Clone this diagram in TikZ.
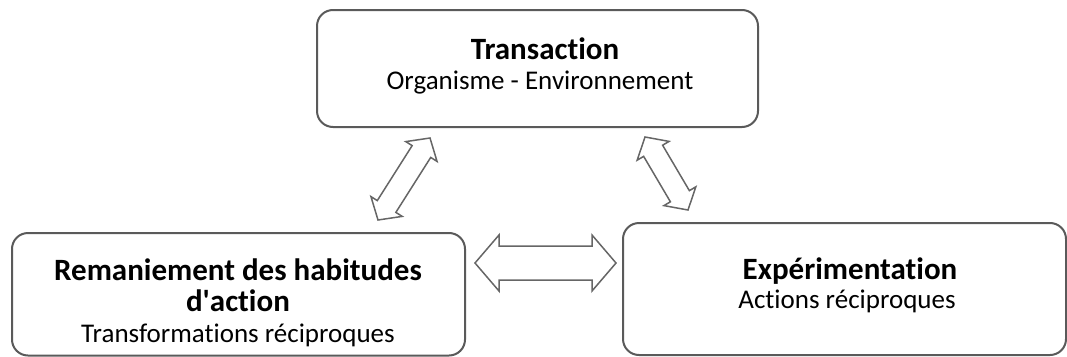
\documentclass[tikz,border=0pt]{standalone}
\usepackage{fontspec}
\setmainfont{Carlito}[Ligatures={NoCommon,NoContextual}]
\usetikzlibrary{calc}
\definecolor{boxline}{HTML}{5A5A5A}
\definecolor{arrline}{HTML}{666666}
\newcommand\blockdarrow[5]{%
  \draw[blockarrow] (#1)
    -- ($(#1)!#3!(#2)!#5!90:(#2)$)
    -- ($(#1)!#3!(#2)!#4!90:(#2)$)
    -- ($(#2)!#3!(#1)!#4!-90:(#1)$)
    -- ($(#2)!#3!(#1)!#5!-90:(#1)$)
    -- (#2)
    -- ($(#2)!#3!(#1)!#5!90:(#1)$)
    -- ($(#2)!#3!(#1)!#4!90:(#1)$)
    -- ($(#1)!#3!(#2)!#4!-90:(#2)$)
    -- ($(#1)!#3!(#2)!#5!-90:(#2)$)
    -- cycle;}
\begin{document}
\begin{tikzpicture}[x=1pt,y=-1pt,
  box/.style={draw=boxline, line width=2pt, rounded corners=16pt},
  blockarrow/.style={draw=arrline, line width=1.5pt, fill=white, line join=miter},
  ttl/.style={anchor=base, font=\fontsize{31}{37}\selectfont\bfseries, inner sep=0pt},
  sub/.style={anchor=base, font=\fontsize{27}{32}\selectfont, inner sep=0pt}]
\useasboundingbox (0,0) rectangle (1067,356);
% boxes
\draw[box] (317,10) rectangle (758,127);
\draw[box] (12,233) rectangle (465,355.5);
\draw[box] (623,223) rectangle (1066,355);
% texts
\node[ttl] (tT) at (545,59) {Transaction};
\node[sub] (tS) at (540,89) {Organisme - Environnement};
\node[ttl] (lT1) at (238,280) {Remaniement des habitudes};
\node[ttl] (lT2) at (238,311) {d\textquotesingle action};
\node[sub] (lS) at (238,342) {Transformations réciproques};
\node[ttl] (rT) at (850,279) {Expérimentation};
\node[sub] (rS) at (847,308) {Actions réciproques};
% arrow end points
\coordinate (hL) at (475,263);
\coordinate (hR) at (616,263);
\coordinate (dlB) at (378,220);
\coordinate (dlT) at (430,138);
\coordinate (drT) at (645,137);
\coordinate (drB) at (688,210);
\blockdarrow{hL}{hR}{24pt}{17pt}{28pt}
\blockdarrow{dlB}{dlT}{16pt}{11pt}{18.5pt}
\blockdarrow{drT}{drB}{16pt}{11pt}{18.5pt}
\end{tikzpicture}
\end{document}
